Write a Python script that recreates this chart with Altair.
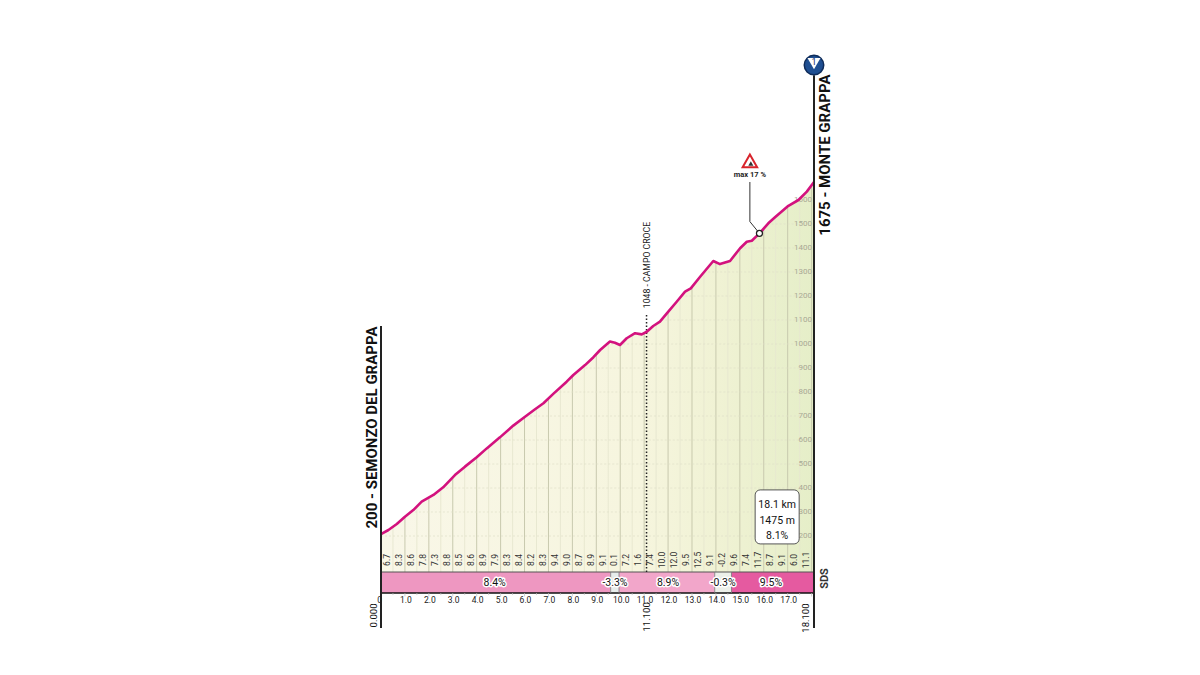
import altair as alt
import numpy as np
import pandas as pd

FONT = "Roboto"

# profile (km, elevation m)
profile_km = [0, .31, .66, 1.00, 1.35, 1.70, 2.19, 2.60, 3.09, 3.51, 4.00, 4.42, 4.97, 5.53, 6.02, 6.44, 6.79, 7.20,
              7.76, 8.04, 8.53, 8.88, 9.16, 9.57, 9.78, 9.99, 10.27, 10.62, 10.90, 11.11, 11.38, 11.66, 12.01, 12.36,
              12.71, 12.95, 13.34, 13.89, 14.17, 14.59, 15.01, 15.29, 15.50, 15.82, 16.19, 16.47, 17.03, 17.45,
              17.80, 18.10]
profile_m = [208, 225, 250, 280, 308, 343, 371, 403, 454, 489, 528, 565, 611, 660, 697, 728, 753, 792,
             843, 871, 912, 945, 975, 1010, 1005, 996, 1024, 1045, 1040, 1051, 1075, 1093, 1135, 1176,
             1218, 1232, 1280, 1346, 1333, 1346, 1399, 1426, 1430, 1461, 1503, 1528, 1576, 1600,
             1635, 1675]

# gradient per half kilometre
half_km_grades = ["6.7", "8.3", "8.6", "7.8", "7.3", "8.8", "8.5", "8.6", "8.9", "7.9", "8.3", "8.4", "8.2", "8.3",
                  "9.4", "9.0", "8.7", "8.9", "9.1", "0.1", "7.2", "1.6", "7.4", "10.0", "12.0", "9.5", "12.5",
                  "9.1", "-0.2", "9.6", "7.4", "11.7", "8.7", "9.1", "6.0", "11.1"]

# gradient sections
seg_start = [0, 9.6, 9.95, 13.95, 14.65]
seg_end = [9.6, 9.95, 13.95, 14.65, 18.1]
seg_label = ["8.4%", "-3.3%", "8.9%", "-0.3%", "9.5%"]
seg_color = ["#ee97c1", "#e6ecea", "#f2a6ca", "#ecefe9", "#e55aa0"]
seg_label_km = [4.75, 9.78, 12.0, 14.3, 16.3]

elev_ticks = list(range(200, 1601, 100))
km_ticks = list(range(1, 18))
km_labels = [f"{k}.0" for k in km_ticks]

BASE = 50       # foot of the profile panel
STRIP_TOP = 50
STRIP_BOT = -37.5
X = alt.X("x:Q", scale=alt.Scale(domain=[0, 18.1], nice=False, zero=False), axis=None)
Y = alt.Y("y:Q", scale=alt.Scale(domain=[STRIP_BOT, 1675], nice=False, zero=False), axis=None)


def interp(k):
    return float(np.interp(k, profile_km, profile_m))


def df(**kw):
    return alt.Data(values=pd.DataFrame(kw).to_dict("records"))


area = alt.Chart(df(x=profile_km, y=profile_m, b=[BASE] * len(profile_km))).mark_area(
    color=alt.Gradient(gradient="linear", x1=0, x2=1, y1=0, y2=0,
                       stops=[alt.GradientStop(color="#f9f7e8", offset=0),
                              alt.GradientStop(color="#f6f5de", offset=0.6),
                              alt.GradientStop(color="#f0f2d4", offset=0.78),
                              alt.GradientStop(color="#e5eec8", offset=1)])
).encode(x=X, y=Y, y2="b:Q")

hk = [i * 0.5 for i in range(1, 37)]
v_minor = [k for k in hk if k % 1 != 0]
v_major = [k for k in hk if k % 1 == 0]
grid_minor = alt.Chart(df(x=v_minor, y=[BASE] * len(v_minor), y2=[interp(k) for k in v_minor])).mark_rule(
    color="#e6e6cf", strokeWidth=0.9).encode(x=X, y=Y, y2="y2:Q")
grid_major = alt.Chart(df(x=v_major, y=[BASE] * len(v_major), y2=[interp(k) for k in v_major])).mark_rule(
    color="#c8c9ae", strokeWidth=1).encode(x=X, y=Y, y2="y2:Q")
h_start = [float(np.interp(e, profile_m, profile_km)) for e in elev_ticks]
grid_h = alt.Chart(df(x=h_start, x2=[18.1] * len(elev_ticks), y=elev_ticks)).mark_rule(
    color="#dfdfc8", strokeWidth=0.7, strokeDash=[2, 2]).encode(x=X, x2="x2:Q", y=Y)

elev_text = alt.Chart(df(x=[18.02] * len(elev_ticks), y=elev_ticks, t=[str(e) for e in elev_ticks])).mark_text(
    align="right", baseline="middle", font=FONT, fontSize=8, color="#a9a995").encode(x=X, y=Y, text="t:N")

strip = alt.Chart(df(x=seg_start, x2=seg_end, y=[STRIP_TOP] * 5, y2=[STRIP_BOT] * 5, c=seg_color)).mark_rect().encode(
    x=X, x2="x2:Q", y=Y, y2="y2:Q", color=alt.Color("c:N", scale=None))
strip_top = alt.Chart(df(x=[0], x2=[18.1], y=[STRIP_TOP])).mark_rule(color="#555", strokeWidth=1).encode(x=X, x2="x2:Q", y=Y)
strip_bot = alt.Chart(df(x=[0], x2=[18.1], y=[STRIP_BOT])).mark_rule(color="#111", strokeWidth=1.6).encode(x=X, x2="x2:Q", y=Y)
seg_edges = [9.6, 9.95, 13.95, 14.65]
strip_edges = alt.Chart(df(x=seg_edges, y=[STRIP_TOP] * 4, y2=[STRIP_BOT] * 4)).mark_rule(color="#777", strokeWidth=0.8).encode(x=X, y=Y, y2="y2:Q")

seg_y = [6] * 5
seg_halo = alt.Chart(df(x=seg_label_km, y=seg_y, t=seg_label)).mark_text(
    font=FONT, fontSize=10.5, stroke="white", strokeWidth=3, strokeJoin="round", color="white", baseline="middle").encode(x=X, y=Y, text="t:N")
seg_text = alt.Chart(df(x=seg_label_km, y=seg_y, t=seg_label)).mark_text(
    font=FONT, fontSize=10.5, color="#111", baseline="middle").encode(x=X, y=Y, text="t:N")

gr_x = [0.26 + 0.5 * i for i in range(36)]
grades = alt.Chart(df(x=gr_x, y=[100] * 36, t=half_km_grades)).mark_text(
    angle=270, font=FONT, fontSize=8.5, color="#333", baseline="middle", align="center").encode(x=X, y=Y, text="t:N")

km_x = [k + 0.04 for k in km_ticks]
km_text = alt.Chart(df(x=km_x, y=[-66] * 17, t=km_labels)).mark_text(
    font=FONT, fontSize=8.5, color="#222", baseline="middle").encode(x=X, y=Y, text="t:N")
zero_text = alt.Chart(df(x=[-0.06], y=[-66], t=["0"])).mark_text(font=FONT, fontSize=8.5, color="#222", baseline="middle").encode(x=X, y=Y, text="t:N")
tick_all = [i * 0.5 for i in range(0, 37)]
ticks = alt.Chart(df(x=tick_all, y=[STRIP_BOT] * 37, y2=[-46 if k % 1 else -52 for k in tick_all])).mark_rule(
    color="#bbb", strokeWidth=0.7).encode(x=X, y=Y, y2="y2:Q")

pos_labels = alt.Chart(df(x=[-0.29, 11.1, 17.78], y=[-131, -137, -142], t=["0.000", "11.100", "18.100"])).mark_text(
    angle=270, font=FONT, fontSize=9.5, color="#111", baseline="middle").encode(x=X, y=Y, text="t:N")

border = alt.Chart(df(x=[0, 18.1], y=[-183, -183], y2=[1075, 2120])).mark_rule(color="#222", strokeWidth=2).encode(x=X, y=Y, y2="y2:Q")

line = alt.Chart(df(x=profile_km, y=profile_m)).mark_line(color="#d3127e", strokeWidth=2.6, strokeJoin="round").encode(x=X, y=Y)

campo = alt.Chart(df(x=[11.1], y=[BASE], y2=[1121])).mark_rule(color="#222", strokeWidth=1.5, strokeDash=[1.5, 2]).encode(x=X, y=Y, y2="y2:Q")
campo_text = alt.Chart(df(x=[11.1], y=[1329], t=["1048 - CAMPO CROCE"])).mark_text(
    angle=270, font=FONT, fontSize=8.7, color="#222", baseline="middle").encode(x=X, y=Y, text="t:N")

titles = alt.Chart(df(x=[-0.39, 18.56], y=[652, 1787], t=["200 - SEMONZO DEL GRAPPA", "1675 - MONTE GRAPPA"])).mark_text(
    angle=270, font=FONT, fontSize=15, fontWeight="bold", color="#111", baseline="middle").encode(x=X, y=Y, text="t:N")

sds = alt.Chart(df(x=[18.56], y=[23], t=["SDS"])).mark_text(
    angle=270, font=FONT, fontSize=11, fontWeight="bold", color="#333", baseline="middle").encode(x=X, y=Y, text="t:N")

badge = alt.Chart(df(x=[15.64], x2=[17.48], y=[392], y2=[167])).mark_rect(
    fill="white", stroke="#555", strokeWidth=1, cornerRadius=5).encode(x=X, x2="x2:Q", y=Y, y2="y2:Q")
badge_text = alt.Chart(df(x=[16.56] * 3, y=[329, 262, 200], t=["18.1 km", "1475 m", "8.1%"])).mark_text(
    font=FONT, fontSize=10.5, color="#111", baseline="middle").encode(x=X, y=Y, text="t:N")

leader = alt.Chart(df(x=[15.42, 15.42, 15.82], y=[1675, 1510, 1461], o=[0, 1, 2])).mark_line(
    color="#333", strokeWidth=1).encode(x=X, y=Y, order="o:Q")
dot = alt.Chart(df(x=[15.82], y=[1461])).mark_point(shape="circle", size=36, fill="white", stroke="#222", strokeWidth=1.3, opacity=1, filled=False).encode(x=X, y=Y)
sign = alt.Chart(df(x=[15.42], y=[1763])).mark_point(shape="triangle-up", size=210, fill="white", stroke="#d8242c", strokeWidth=2, opacity=1, filled=False).encode(x=X, y=Y)
sign_in = alt.Chart(df(x=[15.46], y=[1752])).mark_point(shape="triangle-up", size=26, fill="#333", strokeWidth=0, opacity=1, filled=True).encode(x=X, y=Y)
sign_text = alt.Chart(df(x=[15.42], y=[1704], t=["max 17 %"])).mark_text(font=FONT, fontSize=7.5, fontWeight="bold", color="#222", baseline="middle").encode(x=X, y=Y, text="t:N")

icon = alt.Chart(df(x=[18.1], y=[2162])).mark_point(shape="circle", size=380, fill="#1f4f92", stroke="#0f2c5a", strokeWidth=1.5, opacity=1, filled=False).encode(x=X, y=Y)
icon_in = alt.Chart(df(x=[18.1], y=[2168])).mark_point(shape="triangle-down", size=170, fill="white", strokeWidth=0, opacity=1, filled=True).encode(x=X, y=Y)
icon_text = alt.Chart(df(x=[18.1], y=[2174], t=["1"])).mark_text(font=FONT, fontSize=9, color="#14305f", baseline="middle").encode(x=X, y=Y, text="t:N")

chart = alt.layer(
    area, grid_minor, grid_major, grid_h, elev_text, strip, strip_top, strip_bot, strip_edges, ticks,
    seg_halo, seg_text, grades, km_text, zero_text, pos_labels, campo, campo_text, line, border, titles, sds,
    badge, badge_text, leader, dot, sign, sign_in, sign_text, icon, icon_in, icon_text
).properties(
    width=433, height=411,
    padding={"left": 373, "top": 174, "right": 378, "bottom": 74},
    autosize=alt.AutoSizeParams(type="none"),
    background="white",
).configure_view(stroke=None)

chart.save("out.html", embed_options={"renderer": "svg", "actions": False})
